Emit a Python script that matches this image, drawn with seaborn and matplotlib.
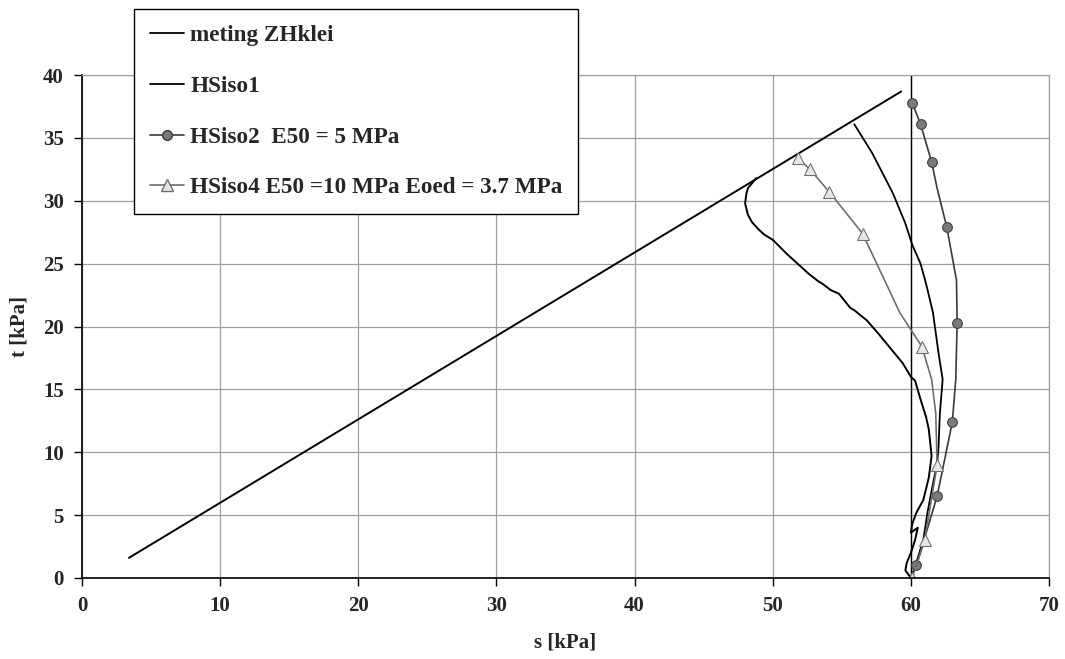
"""Stress path s-t plot: measured ZHklei vs HS model runs
"""

import seaborn as sns
from matplotlib import pyplot as plt
from matplotlib.lines import Line2D
import pandas as pd

###############################################################################
# Values (s and t in kPa)

# measured path, bottom to top
meting_s = [60.0, 59.6, 59.7, 60.0, 60.3, 60.5, 60.0, 60.1, 60.4, 60.9, 61.3, 61.5,
            61.3, 61.1, 60.7, 60.3, 60.0, 59.4, 58.2, 57.6, 56.8, 55.9, 55.6, 54.8,
            54.2, 53.6, 53.3, 52.6, 51.9, 51.0, 50.0, 49.4, 49.0, 48.5, 48.2, 48.0,
            48.1, 48.2, 48.5, 48.8]
meting_t = [0.0, 0.6, 1.2, 2.0, 3.0, 4.0, 3.6, 4.3, 5.2, 6.2, 8.0, 9.7,
            11.8, 12.8, 14.2, 15.7, 16.0, 17.1, 18.7, 19.5, 20.5, 21.3, 21.5, 22.6,
            22.9, 23.4, 23.6, 24.2, 24.9, 25.8, 26.9, 27.3, 27.7, 28.3, 28.9, 29.8,
            30.6, 31.0, 31.4, 31.8]

hsiso1_s = [60.0, 60.3, 60.9, 61.2, 61.6, 61.9, 62.0, 62.1, 62.3, 62.0, 61.6, 61.1,
            60.7, 60.1, 59.6, 58.7, 57.2, 55.9]
hsiso1_t = [0.0, 0.9, 3.0, 5.2, 7.5, 9.1, 10.4, 13.1, 15.8, 17.9, 21.1, 23.4,
            25.0, 26.5, 28.2, 30.6, 33.8, 36.1]

hsiso2_s = [60.0, 60.4, 61.9, 63.0, 63.25, 63.35, 63.3, 62.6, 61.9, 61.5, 60.7, 60.1]
hsiso2_t = [0.0, 1.0, 6.5, 12.4, 15.8, 20.3, 23.7, 27.9, 31.0, 33.1, 36.1, 37.8]
hsiso2_marks = [1, 2, 3, 5, 7, 9, 10, 11]

hsiso4_s = [60.1, 61.0, 61.9, 61.8, 61.5, 60.8, 59.2, 56.5, 54.1, 52.7, 51.8]
hsiso4_t = [0.0, 3.0, 9.0, 13.1, 15.8, 18.4, 21.1, 27.4, 30.7, 32.5, 33.4]
hsiso4_marks = [0, 1, 2, 5, 7, 8, 9, 10]

# failure line and vertical line at s = 60
failure_s = [3.4, 59.3]
failure_t = [1.6, 38.7]
vert_s = [60.0, 60.0]
vert_t = [0.0, 40.0]

legend_labels = ["meting ZHklei", "HSiso1", "HSiso2  E50 = 5 MPa",
                 "HSiso4 E50 =10 MPa Eoed = 3.7 MPa"]

###############################################################################
sns.set_style("whitegrid")
plt.rcParams['font.family'] = ['Liberation Serif', 'DejaVu Serif']
plt.rcParams['font.weight'] = 'bold'

fig = plt.figure(figsize=(10.65, 6.59), dpi=100)
ax = fig.add_axes([0.077, 0.123, 0.908, 0.763])

def path(s, t):
    return pd.DataFrame({"s": s, "t": t})

sns.lineplot(data=path(failure_s, failure_t), x="s", y="t", sort=False,
             estimator=None, color="black", linewidth=1.4, ax=ax)
sns.lineplot(data=path(vert_s, vert_t), x="s", y="t", sort=False,
             estimator=None, color="black", linewidth=1.0, ax=ax)
sns.lineplot(data=path(meting_s, meting_t), x="s", y="t", sort=False,
             estimator=None, color="black", linewidth=1.4, ax=ax)
sns.lineplot(data=path(hsiso1_s, hsiso1_t), x="s", y="t", sort=False,
             estimator=None, color="black", linewidth=1.3, ax=ax)
sns.lineplot(data=path(hsiso2_s, hsiso2_t), x="s", y="t", sort=False,
             estimator=None, color="#3a3a3a", linewidth=1.2, marker="o",
             markersize=7, markerfacecolor="#7a7a7a", markeredgecolor="#3a3a3a",
             markevery=hsiso2_marks, ax=ax)
sns.lineplot(data=path(hsiso4_s, hsiso4_t), x="s", y="t", sort=False,
             estimator=None, color="#6e6e6e", linewidth=1.2, marker="^",
             markersize=8, markerfacecolor="#e6e6e6", markeredgecolor="#6e6e6e",
             markevery=hsiso4_marks, ax=ax)

ax.set_xlim(0, 70)
ax.set_ylim(0, 40)
ax.set_xticks(range(0, 71, 10))
ax.set_yticks(range(0, 41, 5))
ax.grid(True, color="#a0a0a0", linewidth=0.9)
ax.tick_params(axis="both", direction="out", length=6, width=1, color="black",
               labelsize=15, pad=7, bottom=True, left=True)
ax.tick_params(axis="x", pad=7)
for side in ["left", "bottom"]:
    ax.spines[side].set_color("black")
    ax.spines[side].set_linewidth(1.2)
for side in ["top", "right"]:
    ax.spines[side].set_color("#a0a0a0")
    ax.spines[side].set_linewidth(0.9)

ax.set_xlabel("s [kPa]", fontsize=15, fontweight="bold", labelpad=12)
ax.set_ylabel("t [kPa]", fontsize=15, fontweight="bold", labelpad=10)

handles = [
    Line2D([], [], color="black", linewidth=1.3),
    Line2D([], [], color="black", linewidth=1.3),
    Line2D([], [], color="#3a3a3a", linewidth=1.2, marker="o", markersize=7,
           markerfacecolor="#7a7a7a", markeredgecolor="#3a3a3a"),
    Line2D([], [], color="#6e6e6e", linewidth=1.2, marker="^", markersize=8,
           markerfacecolor="#e6e6e6", markeredgecolor="#6e6e6e"),
]
leg = fig.legend(handles, legend_labels, loc="upper left",
                 bbox_to_anchor=(0.126, 0.986), frameon=True, fancybox=False,
                 prop={"weight": "bold", "size": 16.7}, labelspacing=1.27,
                 handlelength=1.45, handletextpad=0.28, borderpad=0.68,
                 borderaxespad=0)
leg.get_frame().set_edgecolor("black")
leg.get_frame().set_linewidth(1.0)
leg.get_frame().set_alpha(1)

fig.savefig("out.png", dpi=100)
